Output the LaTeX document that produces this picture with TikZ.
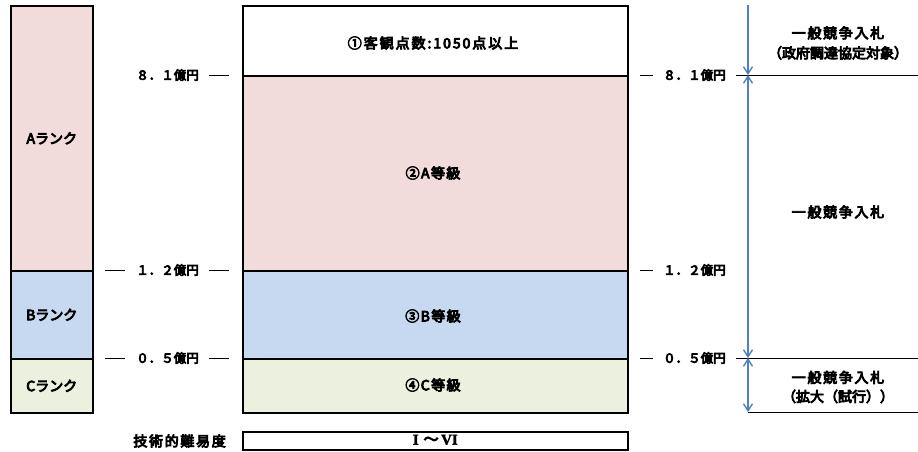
\documentclass[tikz,border=0pt]{standalone}
\usepackage{fontspec}
\setmainfont{Noto Sans CJK JP}[FakeBold=6]
\newfontfamily\serifrm{Liberation Serif Bold}[FakeBold=2]
\usetikzlibrary{arrows.meta}
\definecolor{pinkA}{HTML}{F2DCDB}
\definecolor{blueB}{HTML}{C6D9F0}
\definecolor{greenC}{HTML}{EBF1DE}
\definecolor{arrowblue}{HTML}{4F81BD}
\newcommand{\lsp}[1]{\addfontfeature{LetterSpace=#1}}
\tikzset{
  box/.style={draw=black, line width=1.6pt, rectangle, inner sep=0pt, anchor=north west},
  lbl/.style={font=\fontsize{14}{20}\selectfont, inner sep=0pt, align=center},
  price/.style={font=\fontsize{12.5}{15}\selectfont, inner sep=0pt},
  tick/.style={draw=black, line width=0.8pt},
  thin/.style={draw=black, line width=0.8pt},
  varrow/.style={draw=arrowblue, line width=1.6pt, arrows={Straight Barb[length=7pt,width=9pt,line width=1.4pt]-Straight Barb[length=7pt,width=9pt,line width=1.4pt]}},
  varrowdown/.style={draw=arrowblue, line width=1.6pt, arrows={-Straight Barb[length=7pt,width=9pt,line width=1.4pt]}}
}
\begin{document}
\begin{tikzpicture}[x=1pt,y=-1pt]
\useasboundingbox (0,0) rectangle (918,451);
% left column
\node[box, fill=pinkA, minimum width=82pt, minimum height=265pt] (rankA) at (10,5) {};
\node[box, fill=blueB, minimum width=82pt, minimum height=88pt] (rankB) at (10,270) {};
\node[box, fill=greenC, minimum width=82pt, minimum height=54pt] (rankC) at (10,358) {};
\node[lbl] (tA) at (rankA.center) {Aランク};
\node[lbl] (tB) at (rankB.center) {Bランク};
\node[lbl] (tC) at (rankC.center) {Cランク};
% middle column
\node[box, fill=white, minimum width=385pt, minimum height=70pt] (g1) at (242,5) {};
\node[box, fill=pinkA, minimum width=385pt, minimum height=195pt] (g2) at (242,75) {};
\node[box, fill=blueB, minimum width=385pt, minimum height=88pt] (g3) at (242,270) {};
\node[box, fill=greenC, minimum width=385pt, minimum height=54pt] (g4) at (242,358) {};
\node[lbl] (t1) at (433,43) {\lsp{14}①客観点数:1050点以上};
\node[lbl] (t2) at (433,173) {\lsp{10}②A等級};
\node[lbl] (t3) at (433,316) {\lsp{10}③B等級};
\node[lbl] (t4) at (433,385) {\lsp{10}④C等級};
% bottom row
\node[box, fill=white, minimum width=385pt, minimum height=18pt] (diff) at (242,431) {};
\node[lbl, font=\fontsize{15}{17}\selectfont] (tdiff) at ([yshift=1pt]diff.center) {{\serifrm I}\,\,～\,{\serifrm VI}};
\node[lbl, anchor=east] (diffl) at (226,441) {\lsp{12}技術的難易度};
% left price labels
\node[price, anchor=east] (p81l) at (199,75) {８．１億円};
\node[price, anchor=east] (p12l) at (199,270) {１．２億円};
\node[price, anchor=east] (p05l) at (199,358) {０．５億円};
\draw[tick] (209,75) -- (229,75);
\draw[tick] (105,270) -- (125,270);
\draw[tick] (209,270) -- (229,270);
\draw[tick] (105,358) -- (125,358);
\draw[tick] (209,358) -- (229,358);
% right price labels
\node[price, anchor=west] (p81r) at (663,75) {８．１億円};
\node[price, anchor=west] (p12r) at (663,270) {１．２億円};
\node[price, anchor=west] (p05r) at (663,358) {０．５億円};
\draw[tick] (640,75) -- (653,75);
\draw[tick] (640,270) -- (653,270);
\draw[tick] (640,358) -- (653,358);
% right horizontal lines
\coordinate (h1a) at (736,75);
\coordinate (h1b) at (918,75);
\coordinate (h2a) at (736,358);
\coordinate (h2b) at (918,358);
\coordinate (h3a) at (748,412);
\coordinate (h3b) at (918,412);
\draw[thin] (h1a) -- (h1b);
\draw[thin] (h2a) -- (h2b);
\draw[thin] (h3a) -- (h3b);
% arrows
\coordinate (a0) at (748,5);
\coordinate (a1) at (748,75);
\coordinate (a2) at (748,358);
\coordinate (a3) at (748,412);
\draw[varrowdown] (a0) -- (a1);
\draw[varrow] (a1) -- (a2);
\draw[varrow] (a2) -- (a3);
% right texts
\node[lbl] (r1) at (838,43) {{\lsp{12}一般競争入札}\\（政府調達協定対象）};
\node[lbl] (r2) at (838,212) {\lsp{12}一般競争入札};
\node[lbl, font=\fontsize{14}{19}\selectfont] (r3) at (838,387) {{\lsp{12}一般競争入札}\\（拡大（試行））};
\end{tikzpicture}
\end{document}
